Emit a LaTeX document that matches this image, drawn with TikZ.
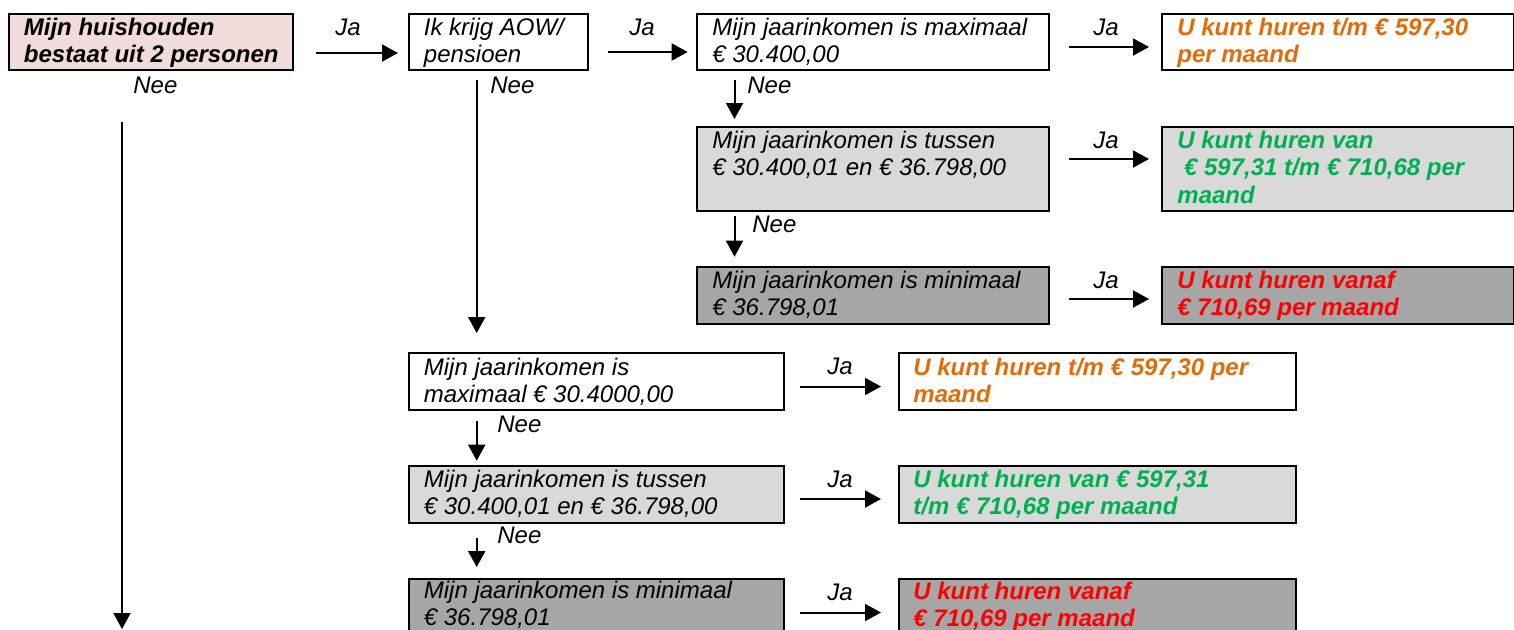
\documentclass[tikz,border=0pt]{standalone}
\usepackage{fontspec}
\setmainfont{Liberation Sans}
\usetikzlibrary{arrows.meta}
\definecolor{pinkfill}{HTML}{F2DCDB}
\definecolor{lightg}{HTML}{D9D9D9}
\definecolor{darkg}{HTML}{A6A6A6}
\definecolor{orng}{HTML}{E36C0A}
\definecolor{grn}{HTML}{00B050}
\definecolor{rd}{HTML}{FF0000}
\newcommand{\bt}[1]{\parbox[t]{220pt}{\fontsize{12pt}{13.8pt}\selectfont\itshape #1}}
\begin{document}
\begin{tikzpicture}[x=0.5pt,y=-0.5pt,
  box/.style={draw=black,line width=1pt,rectangle,inner sep=0pt,anchor=north west},
  topbox/.style={box,minimum height=28pt},
  txt/.style={inner sep=0pt,anchor=base west},
  lbl/.style={inner sep=0pt,anchor=base,font=\fontsize{12pt}{13.8pt}\selectfont\itshape},
  neelbl/.style={inner sep=0pt,anchor=base west,font=\fontsize{12pt}{13.8pt}\selectfont\itshape},
  arr/.style={line width=1pt,-{Triangle[length=8pt,width=8.5pt]}}]
\useasboundingbox (0,0) rectangle (1514,629);
\clip (0,0) rectangle (1514,629);
% top row
\node[topbox,fill=pinkfill,minimum width=142.25pt] (P) at (7.5,13) {};
\node[txt] (tP) at (23.5,35) {\bt{\bfseries Mijn huishouden\\bestaat uit 2 personen}};
\node[topbox,minimum width=89.75pt] (A) at (407.5,13) {};
\node[txt] (tA) at (423.5,35) {\bt{Ik krijg AOW/\\pensioen}};
\node[topbox,minimum width=176pt] (M1) at (696,13) {};
\node[txt] (tM1) at (712,35) {\bt{Mijn jaarinkomen is maximaal\\€ 30.400,00}};
\node[topbox,minimum width=176pt] (R1) at (1161,13) {};
\node[txt,text=orng] (tR1) at (1177,35) {\bt{\bfseries U kunt huren t/m € 597,30\\per maand}};
% middle
\node[box,fill=lightg,minimum width=176pt,minimum height=41.75pt] (T1) at (696,126) {};
\node[txt] (tT1) at (712,148) {\bt{Mijn jaarinkomen is tussen\\€ 30.400,01 en € 36.798,00}};
\node[box,fill=lightg,minimum width=176pt,minimum height=41.75pt] (R2) at (1161,126) {};
\node[txt,text=grn] (tR2) at (1177,148) {\bt{\bfseries U kunt huren van\\\hspace*{0.278em}€ 597,31 t/m € 710,68 per\\maand}};
% third
\node[box,fill=darkg,minimum width=176pt,minimum height=28.5pt] (N1) at (696,266) {};
\node[txt] (tN1) at (712,288) {\bt{Mijn jaarinkomen is minimaal\\€ 36.798,01}};
\node[box,fill=darkg,minimum width=176pt,minimum height=28.5pt] (R3) at (1161,266) {};
\node[txt,text=rd] (tR3) at (1177,288) {\bt{\bfseries U kunt huren vanaf\\€ 710,69 per maand}};
% lower section
\node[box,minimum width=187.75pt,minimum height=28.5pt] (L1) at (407.5,352) {};
\node[txt] (tL1) at (423.5,375) {\bt{Mijn jaarinkomen is\\maximaal € 30.4000,00}};
\node[box,minimum width=198.5pt,minimum height=28.5pt] (LR1) at (898,352) {};
\node[txt,text=orng] (tLR1) at (913,375) {\bt{\bfseries U kunt huren t/m € 597,30 per\\maand}};
\node[box,fill=lightg,minimum width=187.75pt,minimum height=28.25pt] (L2) at (407.5,465) {};
\node[txt] (tL2) at (423.5,487) {\bt{Mijn jaarinkomen is tussen\\€ 30.400,01 en € 36.798,00}};
\node[box,fill=lightg,minimum width=198.5pt,minimum height=28.25pt] (LR2) at (898,465) {};
\node[txt,text=grn] (tLR2) at (913,487) {\bt{\bfseries U kunt huren van € 597,31\\t/m € 710,68 per maand}};
\node[box,fill=darkg,minimum width=187.75pt,minimum height=28.5pt] (L3) at (407.5,578) {};
\node[txt] (tL3) at (423.5,598) {\bt{Mijn jaarinkomen is minimaal\\€ 36.798,01}};
\node[box,fill=darkg,minimum width=198.5pt,minimum height=28.5pt] (LR3) at (898,578) {};
\node[txt,text=rd] (tLR3) at (913,599) {\bt{\bfseries U kunt huren vanaf\\€ 710,69 per maand}};
% Ja arrows
\draw[arr,shorten <=11pt,shorten >=4.75pt] (P.east |- 0,53) -- (A.west |- 0,53);
\node[lbl] (ja1) at (348,35) {Ja};
\draw[arr,shorten <=9.35pt,shorten >=4.15pt] (A.east |- 0,52) -- (M1.west |- 0,52);
\node[lbl] (ja2) at (642,35) {Ja};
\draw[arr,shorten <=9.5pt,shorten >=6pt] (M1.east |- 0,47) -- (R1.west |- 0,47);
\node[lbl] (ja3) at (1106,35) {Ja};
\draw[arr,shorten <=9.5pt,shorten >=6pt] (T1.east |- 0,159) -- (R2.west |- 0,159);
\node[lbl] (ja4) at (1106,148) {Ja};
\draw[arr,shorten <=9.5pt,shorten >=6pt] (N1.east |- 0,299) -- (R3.west |- 0,299);
\node[lbl] (ja5) at (1106,288) {Ja};
\draw[arr,shorten <=7.4pt,shorten >=8.5pt] (L1.east |- 0,386.5) -- (LR1.west |- 0,386.5);
\node[lbl] (ja6) at (840,374) {Ja};
\draw[arr,shorten <=7.4pt,shorten >=8.5pt] (L2.east |- 0,499) -- (LR2.west |- 0,499);
\node[lbl] (ja7) at (840,487) {Ja};
\draw[arr,shorten <=7.4pt,shorten >=8.5pt] (L3.east |- 0,612.5) -- (LR3.west |- 0,612.5);
\node[lbl] (ja8) at (840,600) {Ja};
% Nee arrows
\coordinate (pend) at (122,629);
\draw[arr,shorten <=25.5pt] (P.south -| 122,0) -- (pend);
\node[neelbl] (nee1) at (133,93) {Nee};
\draw[arr,shorten <=4.5pt,shorten >=9.5pt] (A.south -| 476.7,0) -- (L1.north -| 476.7,0);
\node[neelbl] (nee2) at (490,93) {Nee};
\draw[arr,shorten <=4.5pt,shorten >=3.5pt] (M1.south -| 734.5,0) -- (T1.north -| 734.5,0);
\node[neelbl] (nee3) at (747,93) {Nee};
\draw[arr,shorten <=2.25pt,shorten >=4.65pt] (T1.south -| 734.5,0) -- (N1.north -| 734.5,0);
\node[neelbl] (nee4) at (752,232) {Nee};
\draw[arr,shorten <=5pt,shorten >=2.15pt] (L1.south -| 476.7,0) -- (L2.north -| 476.7,0);
\node[neelbl] (nee5) at (497,432) {Nee};
\draw[arr,shorten <=7pt,shorten >=5.5pt] (L2.south -| 476.7,0) -- (L3.north -| 476.7,0);
\node[neelbl] (nee6) at (497,543) {Nee};
\end{tikzpicture}
\end{document}
